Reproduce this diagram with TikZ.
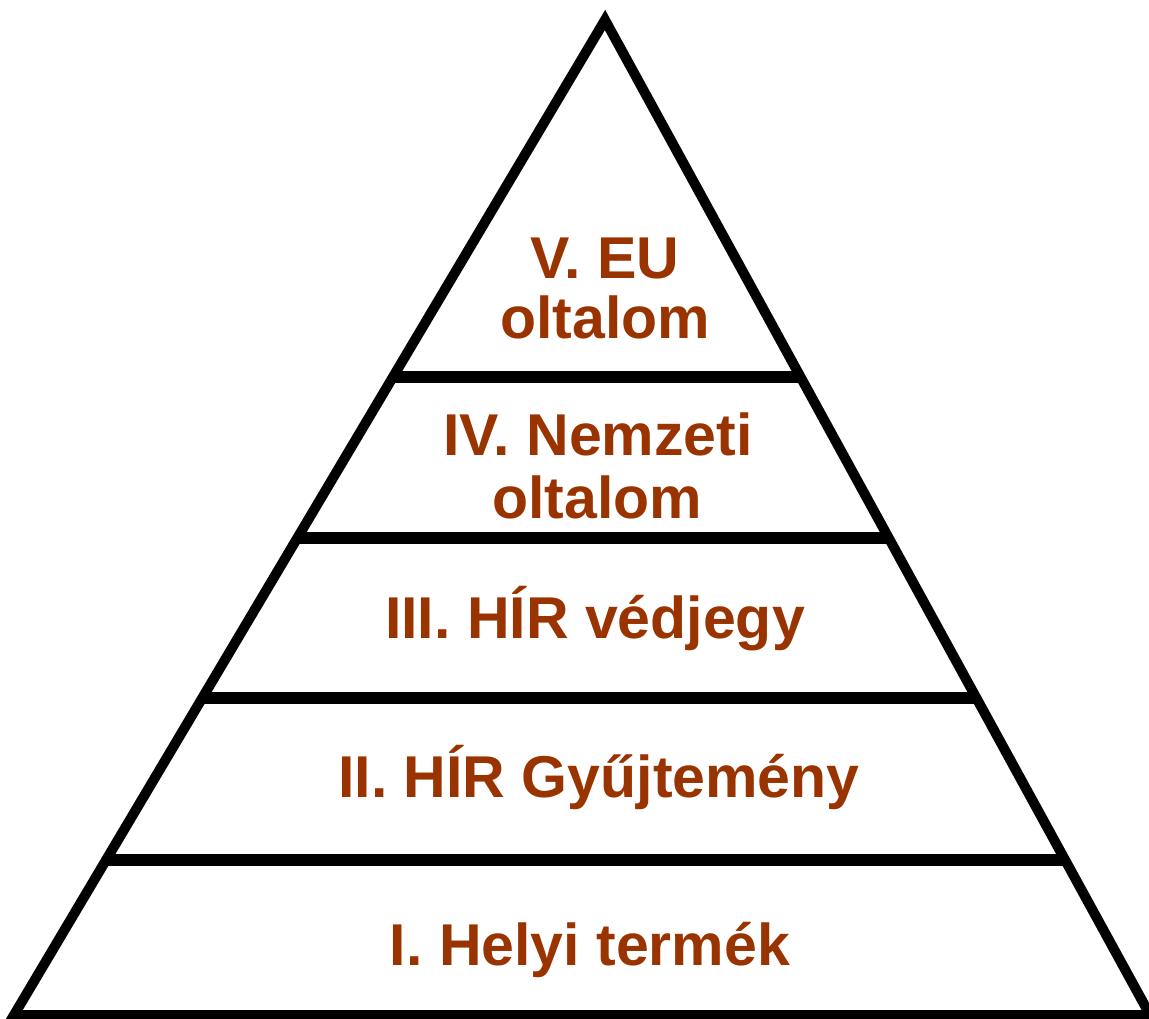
\documentclass[tikz,border=0pt]{standalone}
\usepackage{fontspec}
\setmainfont{Liberation Sans}
\usetikzlibrary{calc}
\definecolor{lvltext}{HTML}{993300}
\begin{document}
\begin{tikzpicture}[x=1pt,y=-1pt,
  side/.style={line width=10pt,line join=miter,black},
  divider/.style={line width=12pt,black},
  lbl/.style={anchor=base,inner sep=0pt,text=lvltext,font=\fontsize{59}{61}\selectfont\bfseries}]
\useasboundingbox (0,0) rectangle (1149,1018);
\coordinate (A) at (605,20);
\coordinate (L) at (14,1015);
\coordinate (R) at (1150,1015);
\draw[side] (L) -- (A) -- (R) -- cycle;
\foreach \f/\n in {0.3588/1,0.5206/2,0.6814/3,0.8442/4}{
  \coordinate (l\n) at ($(A)!\f!(L)$);
  \coordinate (r\n) at ($(A)!\f!(R)$);
  \draw[divider] (l\n) -- (r\n);
}
\node[lbl] (t5a) at (605,278) {V. EU};
\node[lbl] (t5b) at (605,338) {oltalom};
\node[lbl] (t4a) at (598,455) {IV. Nemzeti};
\node[lbl] (t4b) at (597,518) {oltalom};
\node[lbl] (t3) at (595,638) {III. HÍR védjegy};
\node[lbl] (t2) at (599,797) {II. HÍR Gyűjtemény};
\node[lbl] (t1) at (590,965) {I. Helyi termék};
\end{tikzpicture}
\end{document}
